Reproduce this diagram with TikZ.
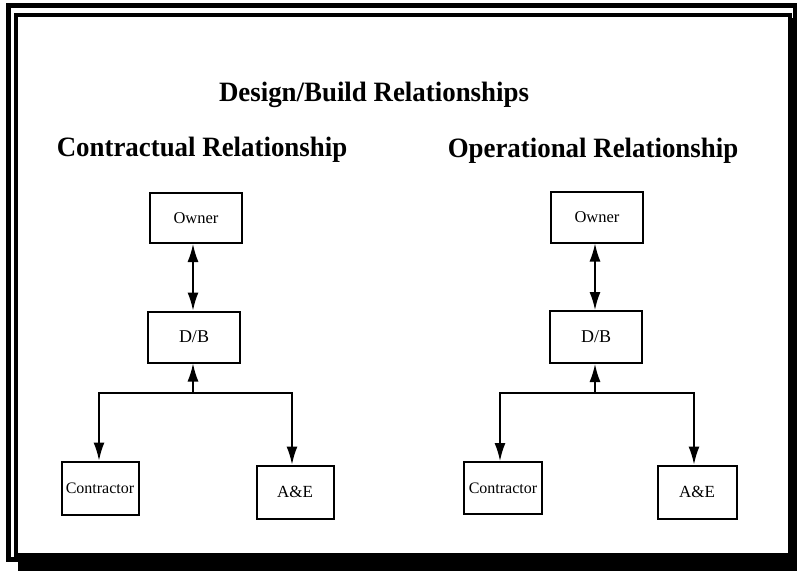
\documentclass[tikz,border=0pt]{standalone}
\usepackage{fontspec}
\setmainfont{Liberation Serif}
\usetikzlibrary{arrows.meta}
\tikzset{
  box/.style={draw=black, line width=2pt, fill=white, inner sep=0pt, anchor=center},
  tip/.tip={Latex[length=18pt,width=11pt]},
  link/.style={line width=1.6pt, -tip},
  head/.style={font=\bfseries\fontsize{28}{30}\selectfont, anchor=center, xscale=0.96, transform shape}
}
\begin{document}
\begin{tikzpicture}[x=1pt, y=-1pt]
            \useasboundingbox (0,0) rectangle (797,571);
            % frame with shadow
            \fill[black]                 (18,560)   rectangle (797,571);
            \fill[black]                 (792,18)   rectangle (797,571);
            \draw[line width=5pt]        (8.5,5.5)  rectangle (795,559.5);
            \draw[line width=4pt]        (15.5,14.5) rectangle (789.5,554.5);
            % headings
            \node[head] (title) at (374,95)  {Design/Build Relationships};
            \node[head] (hcon)  at (202,150) {Contractual Relationship};
            \node[head] (hop)   at (593,151) {Operational Relationship};
            % contractual
            \node[box, minimum width=92pt, minimum height=50pt, font=\fontsize{16.5}{17}\selectfont] (owner1) at (196,218) {Owner};
            \node[box, minimum width=92pt, minimum height=51pt, font=\fontsize{18}{19}\selectfont] (db1)    at (194,337) {D/B};
            \node[box, minimum width=77pt, minimum height=53pt, font=\fontsize{16}{17}\selectfont] (con1)   at (100,488) {Contractor};
            \node[box, minimum width=77pt, minimum height=53pt, font=\fontsize{17}{18}\selectfont] (ae1)    at (295,492) {A\&E};
            \coordinate (j1) at (193,393);
            \draw[link, tip-tip] (owner1.south -| j1) -- (db1.north -| j1);
            \draw[link] (j1) -- (db1.south -| j1);
            \draw[link] (j1) -| (con1.north -| 99,0);
            \draw[link] (j1) -| (ae1.north -| 292,0);
            % operational
            \node[box, minimum width=92pt, minimum height=51pt, font=\fontsize{16.5}{17}\selectfont] (owner2) at (597,217) {Owner};
            \node[box, minimum width=92pt, minimum height=52pt, font=\fontsize{18}{19}\selectfont] (db2)    at (596,337) {D/B};
            \node[box, minimum width=78pt, minimum height=52pt, font=\fontsize{16}{17}\selectfont] (con2)   at (503,488) {Contractor};
            \node[box, minimum width=79pt, minimum height=53pt, font=\fontsize{17}{18}\selectfont] (ae2)    at (697,492) {A\&E};
            \coordinate (j2) at (595,393);
            \draw[link, tip-tip] (owner2.south -| j2) -- (db2.north -| j2);
            \draw[link] (j2) -- (db2.south -| j2);
            \draw[link] (j2) -| (con2.north -| 500,0);
            \draw[link] (j2) -| (ae2.north -| 694,0);
\end{tikzpicture}
\end{document}
